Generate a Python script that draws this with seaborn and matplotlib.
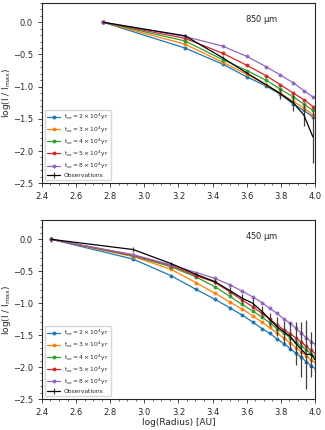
"""Normalised intensity profiles vs radius, models and observations"""

import matplotlib
matplotlib.use("Agg")
import matplotlib.pyplot as plt
from matplotlib.ticker import AutoMinorLocator
import seaborn as sns
import pandas as pd


# --- 850 micron panel ---
r850 = [2.76, 3.239, 3.459, 3.602, 3.714, 3.798, 3.873, 3.935, 3.988]
m850_2 = [0.0, -0.40, -0.65, -0.85, -0.99, -1.12, -1.27, -1.37, -1.47]
m850_3 = [0.0, -0.34, -0.62, -0.81, -0.97, -1.10, -1.23, -1.33, -1.44]
m850_4 = [0.0, -0.29, -0.58, -0.75, -0.90, -1.04, -1.16, -1.27, -1.37]
m850_5 = [0.0, -0.25, -0.48, -0.67, -0.83, -0.97, -1.10, -1.20, -1.31]
m850_8 = [0.0, -0.22, -0.37, -0.53, -0.69, -0.82, -0.94, -1.06, -1.16]
obs850 = [0.0, -0.21, -0.55, -0.79, -0.97, -1.11, -1.25, -1.44, -1.78]
err850 = [0.01, 0.03, 0.02, 0.02, 0.03, 0.08, 0.13, 0.17, 0.40]

# --- 450 micron panel ---
r450 = [2.455, 2.935, 3.157, 3.304, 3.412, 3.500, 3.573, 3.635, 3.690,
        3.735, 3.778, 3.820, 3.855, 3.888, 3.920, 3.948, 3.978, 4.005]
m450_2 = [0.0, -0.31, -0.57, -0.785, -0.936, -1.071, -1.185, -1.294, -1.398,
          -1.471, -1.559, -1.637, -1.710, -1.783, -1.845, -1.913, -1.980, -2.03]
m450_3 = [0.0, -0.27, -0.47, -0.68, -0.84, -0.98, -1.09, -1.195, -1.30,
          -1.38, -1.47, -1.55, -1.62, -1.695, -1.76, -1.82, -1.89, -1.94]
m450_4 = [0.0, -0.26, -0.43, -0.59, -0.74, -0.89, -1.02, -1.12, -1.22,
          -1.305, -1.40, -1.47, -1.54, -1.61, -1.67, -1.73, -1.79, -1.85]
m450_5 = [0.0, -0.25, -0.41, -0.57, -0.67, -0.82, -0.95, -1.055, -1.16,
          -1.25, -1.34, -1.42, -1.48, -1.54, -1.61, -1.67, -1.74, -1.79]
m450_8 = [0.0, -0.24, -0.40, -0.52, -0.61, -0.71, -0.81, -0.90, -0.99,
          -1.08, -1.16, -1.25, -1.315, -1.39, -1.47, -1.54, -1.60, -1.65]
obs450 = [0.0, -0.16, -0.38, -0.55, -0.66, -0.80, -0.92, -1.00, -1.13,
          -1.25, -1.37, -1.45, -1.52, -1.63, -1.72, -1.80, -1.80, -1.90]
err450 = [0.04, 0.04, 0.03, 0.03, 0.04, 0.05, 0.07, 0.08, 0.09,
          0.10, 0.15, 0.17, 0.22, 0.33, 0.43, 0.54, 0.35, 0.30]

labels = [r'$t_{\rm co} = 2\times10^4$yr', r'$t_{\rm co} = 3\times10^4$yr',
          r'$t_{\rm co} = 4\times10^4$yr', r'$t_{\rm co} = 5\times10^4$yr',
          r'$t_{\rm co} = 8\times10^4$yr']


def to_long(r, models):
    frames = []
    for lab, vals in zip(labels, models):
        frames.append(pd.DataFrame({'r': r, 'I': vals, 'model': lab}))
    return pd.concat(frames, ignore_index=True)


sns.set_style('ticks')
plt.rcParams['font.family'] = ['DejaVu Sans']
plt.rcParams['mathtext.default'] = 'regular'

fig = plt.figure(figsize=(3.25, 4.3), dpi=100)
ax1 = fig.add_axes([0.129, 0.574, 0.840, 0.419])
ax2 = fig.add_axes([0.129, 0.072, 0.840, 0.416])

panels = [
    (ax1, r850, [m850_2, m850_3, m850_4, m850_5, m850_8], obs850, err850,
     r'850 $\mu$m'),
    (ax2, r450, [m450_2, m450_3, m450_4, m450_5, m450_8], obs450, err450,
     r'450 $\mu$m'),
]

for ax, r, models, obs, err, tag in panels:
    df = to_long(r, models)
    sns.lineplot(data=df, x='r', y='I', hue='model', palette='tab10',
                 marker='o', markersize=2.8, markeredgewidth=0,
                 linewidth=0.9, ax=ax)
    ax.errorbar(r, obs, yerr=err, color='black', ecolor='0.25',
                elinewidth=0.9, linewidth=0.9, label='Observations')

    ax.set_xlim(2.4, 4.0)
    ax.set_ylim(-2.5, 0.3)
    ax.xaxis.set_minor_locator(AutoMinorLocator())
    ax.yaxis.set_minor_locator(AutoMinorLocator())
    ax.tick_params(which='major', labelsize=6, length=3, width=0.6)
    ax.tick_params(which='minor', length=1.5, width=0.5)
    for s in ax.spines.values():
        s.set_linewidth(0.8)
    ax.set_ylabel(r'log(I / I$_{\rm max}$)', fontsize=6.5)
    ax.yaxis.set_label_coords(-0.105, 0.5)
    ax.set_xlabel('')
    ax.text(3.69, 0.05, tag, fontsize=6, ha='center', va='center')
    ax.legend(loc='lower left', fontsize=4.3, frameon=True,
              handlelength=2.2, borderpad=0.4, labelspacing=0.3,
              handletextpad=0.6, fancybox=True)

ax2.set_xlabel('log(Radius) [AU]', fontsize=6.5, labelpad=1)

fig.savefig('out.png', dpi=100)
